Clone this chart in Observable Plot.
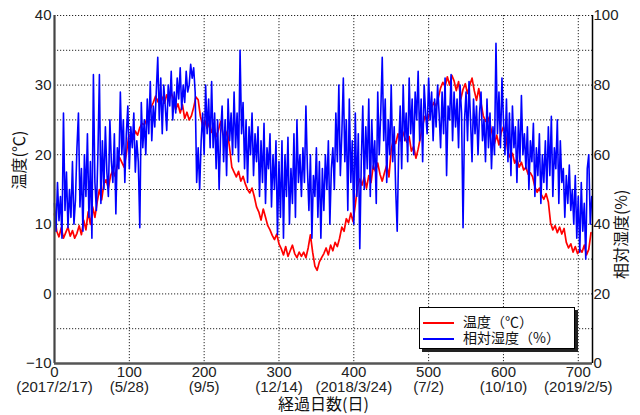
<!DOCTYPE html>
<html><head><meta charset="utf-8">
<script src="https://cdn.jsdelivr.net/npm/d3@7"></script>
<script src="https://cdn.jsdelivr.net/npm/@observablehq/plot@0.6"></script>
<style>
body{margin:0;background:#fff;}
#wrap{position:relative;width:640px;height:415px;}
.leg{position:absolute;left:419px;top:307px;width:154px;height:40px;border:1px solid #000;background:#fff;box-shadow:3px 3px 0 #222;font-family:"Noto Sans CJK JP",sans-serif;font-size:14px;color:#111;}
.leg .row{position:absolute;left:3px;height:14px;line-height:14px;white-space:nowrap;}
.leg .sw{display:inline-block;width:31px;height:1.5px;vertical-align:middle;margin-right:9px;}
</style>
</head><body>
<div id="wrap"></div>
<script>
// Temperature (°C), sampled every 3 days from day 0
const tempStep = 3;
const temperature = [
11.5, 9.0, 8.2, 9.5, 8.0, 8.8, 9.6, 8.3, 9.1, 8.0,
8.7, 9.8, 8.5, 10.6, 9.2, 11.8, 10.0, 12.5, 11.0, 13.2,
15.0, 13.5, 15.8, 16.4, 15.2, 17.0, 17.8, 16.9, 18.5, 19.6,
18.9, 18.2, 20.1, 22.5, 23.0, 22.2, 23.4, 22.8, 23.9, 24.5,
24.3, 25.0, 26.2, 26.8, 27.5, 28.4, 27.6, 28.8, 28.2, 27.4,
28.6, 27.8, 28.9, 28.0, 26.5, 27.3, 26.0, 27.2, 25.2, 26.1,
25.0, 25.6, 26.8, 28.3, 27.9, 25.5, 24.2, 24.9, 23.8, 24.6,
23.2, 24.0, 22.6, 23.5, 24.8, 23.0, 22.4, 23.4, 21.0, 18.2,
17.5, 16.8, 17.6, 16.2, 16.9, 15.8, 15.0, 14.5, 15.2, 14.0,
12.5, 11.8, 10.6, 12.2, 11.0, 9.8, 9.2, 8.4, 7.8, 8.6,
7.2, 6.5, 5.6, 6.8, 5.4, 6.2, 7.0, 5.8, 5.2, 6.0,
5.4, 6.0, 5.2, 6.6, 8.5, 6.0, 4.0, 3.4, 4.6, 5.2,
5.8, 6.6, 5.6, 7.0, 6.2, 7.4, 6.8, 8.0, 9.6, 9.0,
10.8, 10.2, 11.6, 10.4, 12.8, 15.4, 16.5, 15.6, 16.8, 15.2,
17.0, 16.0, 18.4, 17.6, 18.8, 17.2, 16.2, 17.4, 18.5, 16.8,
20.8, 22.2, 21.6, 23.0, 22.0, 23.4, 22.5, 21.8, 22.6, 20.5,
21.2, 19.5, 20.8, 22.5, 24.2, 25.5, 24.8, 25.8, 26.8, 27.5,
27.0, 28.2, 29.6, 30.4, 29.8, 31.2, 30.0, 31.4, 30.6, 29.2,
30.5, 28.0, 29.4, 30.2, 28.8, 30.0, 31.0, 29.2, 27.8, 29.5,
27.4, 25.6, 24.8, 25.4, 24.4, 23.0, 21.6, 22.8, 21.4, 23.2,
24.0, 22.8, 20.4, 19.6, 20.2, 18.8, 19.4, 18.2, 18.9, 17.8,
18.2, 17.2, 17.4, 16.8, 15.4, 14.6, 15.2, 14.2, 13.6, 14.4,
13.2, 10.2, 9.2, 9.8, 8.8, 9.6, 8.6, 9.4, 7.4, 6.6,
7.2, 6.0, 6.8, 5.8, 6.4, 6.0, 7.0, 5.6, 6.4, 8.8
];
// Relative humidity (%), sampled every 2 days from day 0
const humStep = 2;
const humidity = [
46, 38, 52, 41, 48, 36, 72, 44, 55, 39, 50, 42, 58, 40, 47,
62, 72, 45, 56, 38, 60, 48, 66, 42, 58, 36, 83, 52, 44, 60,
83, 46, 64, 50, 68, 55, 48, 70, 58, 52, 66, 43, 62, 56, 78,
60, 70, 52, 66, 74, 56, 68, 62, 72, 55, 64, 58, 39, 75, 62,
70, 60, 76, 66, 81, 64, 74, 68, 78, 88, 70, 82, 66, 80, 74,
67, 80, 74, 84, 70, 78, 72, 82, 76, 85, 73, 80, 75, 84, 78,
80, 86, 82, 85, 78, 52, 62, 50, 64, 72, 60, 80, 66, 76, 62,
81, 62, 72, 56, 70, 50, 66, 74, 58, 70, 54, 76, 64, 72, 60,
78, 62, 72, 58, 90, 66, 75, 56, 70, 52, 68, 60, 72, 54, 66,
58, 68, 48, 64, 52, 69, 46, 62, 56, 66, 45, 60, 50, 64, 37,
58, 42, 64, 36, 60, 48, 65, 40, 56, 46, 66, 42, 70, 52, 60,
48, 62, 52, 74, 56, 44, 60, 36, 54, 48, 62, 42, 58, 36, 56,
44, 60, 50, 64, 40, 56, 62, 50, 72, 58, 80, 54, 66, 82, 58,
70, 44, 76, 52, 64, 40, 72, 48, 66, 33, 58, 74, 50, 68, 56,
76, 48, 70, 56, 64, 46, 78, 60, 72, 88, 64, 76, 52, 70, 60,
80, 58, 68, 50, 38, 62, 74, 56, 80, 64, 72, 58, 82, 66, 76,
60, 78, 70, 84, 64, 76, 58, 80, 72, 66, 82, 70, 78, 64, 76,
68, 80, 72, 62, 78, 66, 82, 54, 74, 70, 83, 64, 78, 68, 76,
62, 80, 72, 39, 70, 78, 64, 81, 70, 58, 76, 66, 74, 60, 72,
78, 64, 70, 58, 76, 62, 72, 56, 68, 60, 92, 66, 78, 62, 82,
70, 60, 76, 58, 72, 54, 74, 62, 68, 52, 70, 58, 77, 60, 66,
56, 68, 50, 64, 58, 69, 48, 62, 54, 66, 46, 60, 52, 64, 50,
68, 54, 71, 48, 62, 56, 70, 46, 64, 52, 56, 42, 54, 46, 57,
44, 50, 40, 54, 36, 48, 32, 52, 38, 46, 30, 56, 60, 40, 48
];
const xTicks = [0, 100, 200, 300, 400, 500, 600, 700];
const xDates = ["(2017/2/17)", "(5/28)", "(9/5)", "(12/14)", "(2018/3/24)", "(7/2)", "(10/10)", "(2019/2/5)"];
const tempTicks = [-10, 0, 10, 20, 30, 40];
const humTicks = [0, 20, 40, 60, 80, 100];
const xMax = 719;
const tempDomain = [-10, 40];
const humDomain = [0, 100];

// map humidity onto the temperature scale
const h2t = h => tempDomain[0] + (h - humDomain[0]) / (humDomain[1] - humDomain[0]) * (tempDomain[1] - tempDomain[0]);
const tempData = temperature.map((v, i) => ({day: i * tempStep, v}));
const humData = humidity.map((v, i) => ({day: i * humStep, v: h2t(v)}));

const jp = "Noto Sans CJK JP";
const chart = Plot.plot({
  width: 640, height: 415,
  marginLeft: 54, marginRight: 48, marginTop: 15, marginBottom: 52,
  style: {fontFamily: "Liberation Sans, Arial, sans-serif", fontSize: "15px", color: "#222", background: "#fff"},
  x: {domain: [0, xMax]},
  y: {domain: tempDomain},
  marks: [
    Plot.gridX(xTicks.slice(1), {stroke: "#000", strokeOpacity: 0.85, strokeDasharray: "1.2,1.8"}),
    Plot.gridY(d3.range(-5, 41, 5), {stroke: "#000", strokeOpacity: 0.85, strokeDasharray: "1.2,1.8"}),
    Plot.lineY(tempData, {x: "day", y: "v", stroke: "#ff0000", strokeWidth: 1.7}),
    Plot.lineY(humData, {x: "day", y: "v", stroke: "#0000ff", strokeWidth: 1.6}),
    Plot.ruleX([0], {stroke: "#444", strokeWidth: 2.2}),
    Plot.ruleY([tempDomain[0]], {stroke: "#555", strokeWidth: 2.5}),
    Plot.ruleX([xMax], {stroke: "#000", strokeWidth: 1.5}),
    Plot.axisX(xTicks, {tickSize: 0, tickPadding: 3, label: null, lineHeight: 1.0,
      tickFormat: (d) => d + "\n" + xDates[xTicks.indexOf(d)]}),
    Plot.axisY(tempTicks, {anchor: "left", tickSize: 0, tickPadding: 3, label: null}),
    Plot.axisY(humTicks.map(h2t), {anchor: "right", tickSize: 0, tickPadding: 1, label: null,
      tickFormat: d => String(Math.round((d - tempDomain[0]) / (tempDomain[1] - tempDomain[0]) * 100))}),
    Plot.text(["温度(℃)"], {frameAnchor: "left", dx: -35, rotate: -90, fontFamily: jp, fontSize: 16, fill: "#111"}),
    Plot.text(["相対湿度(%)"], {frameAnchor: "right", dx: 29, rotate: -90, fontFamily: jp, fontSize: 16, fill: "#111"}),
    Plot.text(["経過日数(日)"], {frameAnchor: "bottom", dy: 46, fontFamily: jp, fontSize: 16, fill: "#111"})
  ]
});
const wrap = document.getElementById("wrap");
wrap.appendChild(chart);
const leg = document.createElement("div");
leg.className = "leg";
leg.innerHTML = '<div class="row" style="top:6px"><span class="sw" style="background:#ff0000"></span>温度（℃）</div>' +
                '<div class="row" style="top:22px"><span class="sw" style="background:#0000ff"></span>相対湿度（%）</div>';
wrap.appendChild(leg);
</script>
</body></html>
